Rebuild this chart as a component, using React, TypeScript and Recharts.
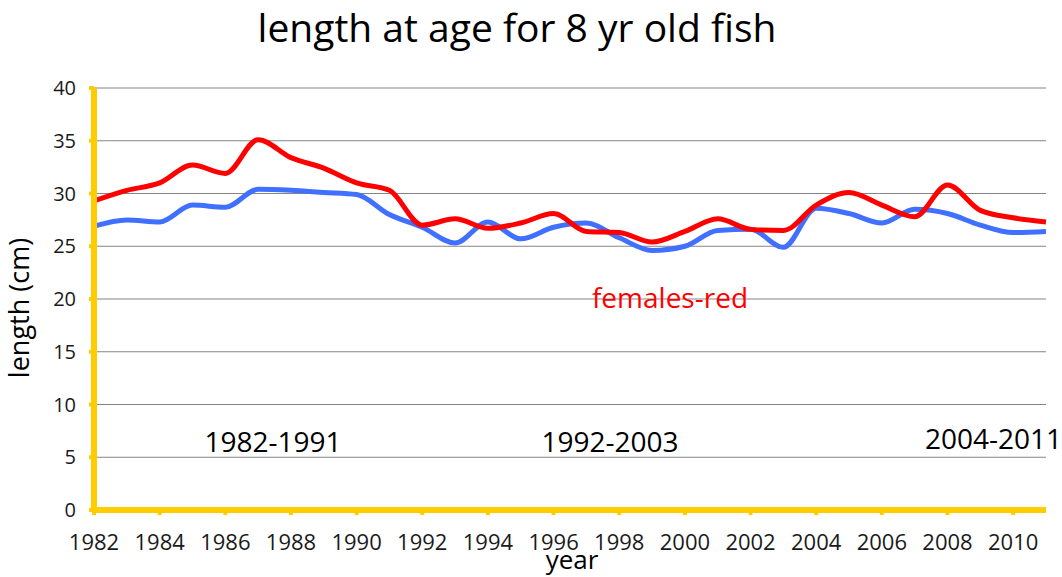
import { CartesianGrid, Line, LineChart, XAxis, YAxis } from "recharts";

const years = [
  1982, 1983, 1984, 1985, 1986, 1987, 1988, 1989, 1990, 1991, 1992, 1993, 1994, 1995, 1996,
  1997, 1998, 1999, 2000, 2001, 2002, 2003, 2004, 2005, 2006, 2007, 2008, 2009, 2010, 2011,
];
const females = [
  29.3, 30.3, 31.0, 32.7, 31.9, 35.1, 33.4, 32.4, 31.0, 30.3, 27.0, 27.6, 26.7, 27.2, 28.1,
  26.4, 26.3, 25.4, 26.4, 27.6, 26.6, 26.5, 28.9, 30.1, 28.9, 27.8, 30.8, 28.4, 27.7, 27.3,
];
const males = [
  26.9, 27.5, 27.3, 28.9, 28.7, 30.4, 30.3, 30.1, 29.9, 28.0, 26.8, 25.3, 27.3, 25.7, 26.8,
  27.2, 25.8, 24.6, 25.0, 26.5, 26.6, 24.9, 28.6, 28.1, 27.2, 28.5, 28.1, 27.0, 26.3, 26.4,
];
const xTicks = [1982, 1984, 1986, 1988, 1990, 1992, 1994, 1996, 1998, 2000, 2002, 2004, 2006, 2008, 2010];
const yTicks = [0, 5, 10, 15, 20, 25, 30, 35, 40];

const data = years.map((year, i) => ({ year, females: females[i], males: males[i] }));

const yellow = "#FFCC00";
const font = "'Open Sans', sans-serif";

export default function App() {
  return (
    <div
      style={{
        position: "absolute",
        left: 0,
        top: 0,
        width: 1062,
        height: 577,
        background: "#fff",
        fontFamily: font,
      }}
    >
      <LineChart
        width={1062}
        height={577}
        data={data}
        margin={{ top: 88, right: 16, bottom: 27, left: 34 }}
      >
        <CartesianGrid vertical={false} stroke="#858585" strokeWidth={1} />
        <XAxis
          dataKey="year"
          type="number"
          domain={[1982, 2011]}
          ticks={xTicks}
          height={40}
          axisLine={{ stroke: yellow, strokeWidth: 6 }}
          tickLine={{ stroke: yellow, strokeWidth: 4 }}
          tickSize={5}
          tickMargin={19}
          tick={{ fill: "#1a1a1a", fontSize: 22, fontFamily: font }}
        />
        <YAxis
          domain={[0, 40]}
          ticks={yTicks}
          width={60}
          axisLine={{ stroke: yellow, strokeWidth: 6 }}
          tickLine={{ stroke: yellow, strokeWidth: 4 }}
          tickSize={5}
          tickMargin={13}
          tick={{ fill: "#1a1a1a", fontSize: 20, fontFamily: font }}
        />
        <Line
          type="monotone"
          dataKey="males"
          stroke="#4070FF"
          strokeWidth={5}
          dot={false}
          isAnimationActive={false}
        />
        <Line
          type="monotone"
          dataKey="females"
          stroke="#FF0000"
          strokeWidth={5}
          dot={false}
          isAnimationActive={false}
        />
      </LineChart>
      <svg
        width={1062}
        height={577}
        style={{ position: "absolute", left: 0, top: 0, pointerEvents: "none" }}
        fontFamily={font}
      >
        <text x={517} y={42} textAnchor="middle" fontSize={39} fill="#000">
          length at age for 8 yr old fish
        </text>
        <text transform="translate(29,308) rotate(-90)" textAnchor="middle" fontSize={27} fill="#000">
          length (cm)
        </text>
        <text x={572} y={569} textAnchor="middle" fontSize={26} fill="#000">
          year
        </text>
        <text x={273} y={452} textAnchor="middle" fontSize={28} fill="#000">
          1982-1991
        </text>
        <text x={610} y={452} textAnchor="middle" fontSize={28} fill="#000">
          1992-2003
        </text>
        <text x={925} y={449} textAnchor="start" fontSize={28} fill="#000">
          2004-2011
        </text>
        <text x={670} y={308} textAnchor="middle" fontSize={28} fill="#FF0000">
          females-red
        </text>
      </svg>
    </div>
  );
}
